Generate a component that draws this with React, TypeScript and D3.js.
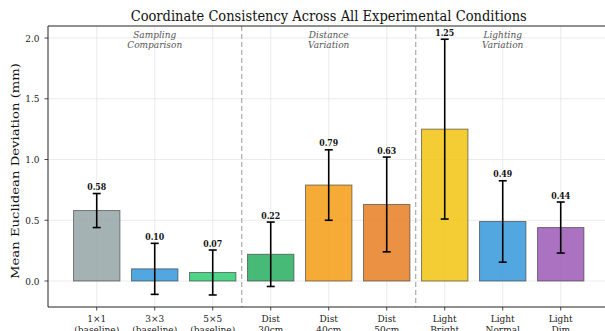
import React from "react";
import * as d3 from "d3";

// Mean Euclidean deviation per experimental condition (mm)
const categories: string[][] = [
  ["1×1", "(baseline)"],
  ["3×3", "(baseline)"],
  ["5×5", "(baseline)"],
  ["Dist", "30cm"],
  ["Dist", "40cm"],
  ["Dist", "50cm"],
  ["Light", "Bright"],
  ["Light", "Normal"],
  ["Light", "Dim"],
];
const means: number[] = [0.58, 0.1, 0.07, 0.22, 0.79, 0.63, 1.25, 0.49, 0.44];
const stds: number[] = [0.14, 0.21, 0.185, 0.265, 0.29, 0.39, 0.74, 0.335, 0.21];
const colors: string[] = [
  "#95a5a6", "#3498db", "#2ecc71", "#27ae60", "#f39c12",
  "#e67e22", "#f1c40f", "#3498db", "#9b59b6",
];
const yTicks: number[] = [0, 0.5, 1.0, 1.5, 2.0];
const groups: { label: string[]; at: number }[] = [
  { label: ["Sampling", "Comparison"], at: 1 },
  { label: ["Distance", "Variation"], at: 4 },
  { label: ["Lighting", "Variation"], at: 7 },
];
const separators: number[] = [2.5, 5.5];

const W = 605;
const H = 331;
const FONT = "'DejaVu Serif', serif";
// horizontal compression applied to all text glyphs
const SX = 0.9;

function Label(props: {
  x: number;
  y: number;
  children: React.ReactNode;
  size: number;
  anchor?: string;
  weight?: string;
  italic?: boolean;
  fill?: string;
}) {
  return (
    <text
      transform={`translate(${props.x},${props.y}) scale(${SX},1)`}
      textAnchor={props.anchor ?? "middle"}
      fontSize={props.size}
      fontWeight={props.weight ?? "normal"}
      fontStyle={props.italic ? "italic" : "normal"}
      fill={props.fill ?? "#222"}
    >
      {props.children}
    </text>
  );
}

export default function App() {
  const left = 48;
  const top = 26;
  const bottom = 307;
  const n = categories.length;
  const step = 58;
  const x = d3
    .scaleLinear()
    .domain([-0.84, n - 1 + 0.84])
    .range([left, left + step * (n - 1 + 1.68)]);
  const y = d3.scaleLinear().domain([-0.214, 2.099]).range([bottom, top]);
  const right = x.range()[1];
  const bw = (x(1) - x(0)) * 0.8;
  const cap = 4;

  return (
    <svg
      width={W}
      height={H}
      style={{ position: "absolute", left: 0, top: 0, background: "#fff" }}
      fontFamily={FONT}
    >
      <defs>
        <clipPath id="fig">
          <rect x={0} y={0} width={W} height={H} />
        </clipPath>
      </defs>
      <rect x={0} y={0} width={W} height={H} fill="#fff" />
      <g clipPath="url(#fig)">
        {/* grid */}
        {yTicks.map((t) => (
          <line key={"gy" + t} x1={left} x2={right} y1={y(t)} y2={y(t)} stroke="#e6e6e6" strokeWidth={0.8} />
        ))}
        {categories.map((_, i) => (
          <line key={"gx" + i} x1={x(i)} x2={x(i)} y1={top} y2={bottom} stroke="#e6e6e6" strokeWidth={0.8} />
        ))}

        {/* bars */}
        {means.map((m, i) => (
          <rect
            key={"b" + i}
            x={x(i) - bw / 2}
            y={y(Math.max(m, 0))}
            width={bw}
            height={Math.abs(y(0) - y(m))}
            fill={colors[i]}
            fillOpacity={0.85}
            stroke="#333"
            strokeOpacity={0.6}
            strokeWidth={1}
          />
        ))}

        {/* group separators */}
        {separators.map((s) => (
          <line key={"s" + s} x1={x(s)} x2={x(s)} y1={top} y2={bottom} stroke="#aaa" strokeWidth={1.2} strokeDasharray="5,3" />
        ))}

        {/* error bars */}
        {means.map((m, i) => {
          const cx = x(i);
          const hi = y(m + stds[i]);
          const lo = y(m - stds[i]);
          return (
            <g key={"e" + i} stroke="#000" strokeWidth={1.6}>
              <line x1={cx} x2={cx} y1={hi} y2={lo} />
              <line x1={cx - cap} x2={cx + cap} y1={hi} y2={hi} />
              <line x1={cx - cap} x2={cx + cap} y1={lo} y2={lo} />
            </g>
          );
        })}

        {/* value labels */}
        {means.map((m, i) => (
          <Label key={"v" + i} x={x(i)} y={y(m + stds[i]) - 3.5} size={8.7} weight="bold" fill="#111">
            {m.toFixed(2)}
          </Label>
        ))}

        {/* group annotations */}
        {groups.map((g) => (
          <g key={g.label[0]}>
            <Label x={x(g.at)} y={37.5} size={10} italic fill="#555">{g.label[0]}</Label>
            <Label x={x(g.at)} y={47.5} size={10} italic fill="#555">{g.label[1]}</Label>
          </g>
        ))}

        {/* spines */}
        <line x1={left} x2={right} y1={top} y2={top} stroke="#222" strokeWidth={1} />
        <line x1={left} x2={right} y1={bottom} y2={bottom} stroke="#222" strokeWidth={1} />
        <line x1={left} x2={left} y1={top} y2={bottom} stroke="#222" strokeWidth={1} />
        <line x1={right} x2={right} y1={top} y2={bottom} stroke="#222" strokeWidth={1} />

        {/* y axis */}
        {yTicks.map((t) => (
          <g key={"yt" + t}>
            <line x1={left - 3.5} x2={left} y1={y(t)} y2={y(t)} stroke="#222" strokeWidth={0.8} />
            <Label x={left - 8.5} y={y(t) + 3.6} size={10} anchor="end">
              {t.toFixed(1)}
            </Label>
          </g>
        ))}

        {/* x axis */}
        {categories.map((c, i) => (
          <g key={"xt" + i}>
            <line x1={x(i)} x2={x(i)} y1={bottom} y2={bottom + 3.5} stroke="#222" strokeWidth={0.8} />
            <Label x={x(i)} y={321.5} size={10}>{c[0]}</Label>
            <Label x={x(i)} y={333} size={10}>{c[1]}</Label>
          </g>
        ))}

        {/* axis label */}
        <text
          transform={`translate(18.5,171) rotate(-90) scale(1,${SX})`}
          textAnchor="middle"
          fontSize={13.2}
          fill="#111"
        >
          Mean Euclidean Deviation (mm)
        </text>

        {/* title */}
        <Label x={(left + right) / 2} y={21} size={14.5} fill="#111">
          Coordinate Consistency Across All Experimental Conditions
        </Label>
      </g>
    </svg>
  );
}
